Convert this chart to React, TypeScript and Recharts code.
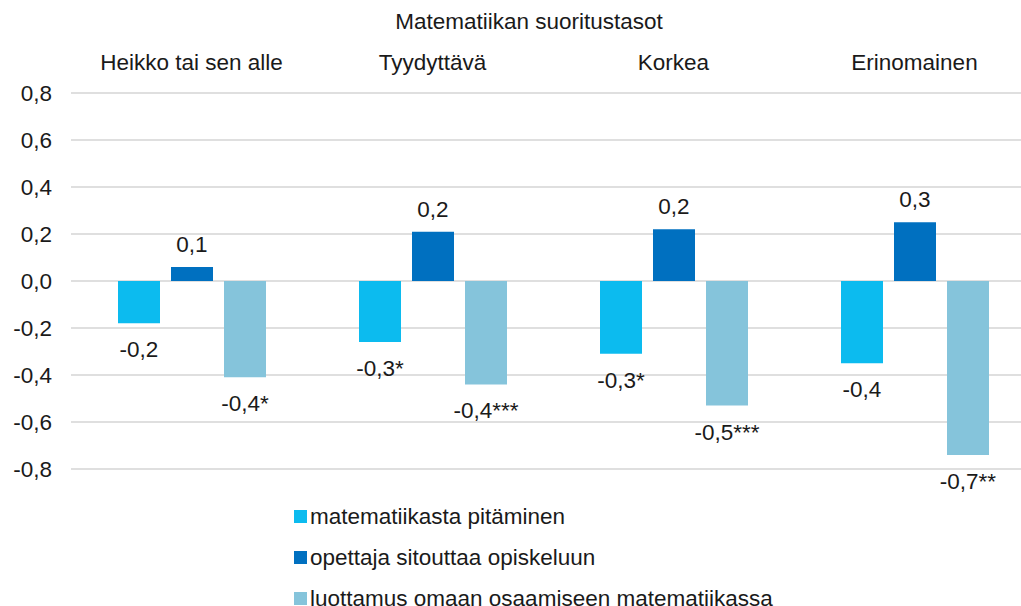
import React from 'react';
import { BarChart, Bar, XAxis, YAxis, CartesianGrid, Legend, LabelList } from 'recharts';

const categories = ['Heikko tai sen alle', 'Tyydyttävä', 'Korkea', 'Erinomainen'];
const pitaminen = [-0.18, -0.26, -0.31, -0.35];
const sitouttaa = [0.06, 0.21, 0.22, 0.25];
const luottamus = [-0.41, -0.44, -0.53, -0.74];
const pitaminenLabels = ['-0,2', '-0,3*', '-0,3*', '-0,4'];
const sitouttaaLabels = ['0,1', '0,2', '0,2', '0,3'];
const luottamusLabels = ['-0,4*', '-0,4***', '-0,5***', '-0,7**'];
const yTicks = [-0.8, -0.6, -0.4, -0.2, 0, 0.2, 0.4, 0.6, 0.8];

const seriesNames = ['matematiikasta pitäminen', 'opettaja sitouttaa opiskeluun', 'luottamus omaan osaamiseen matematiikassa'];
const colors = ['#0cbbef', '#0070c0', '#85c4db'];
const title = 'Matematiikan suoritustasot';

const data = categories.map((c, i) => ({
  name: c,
  p: pitaminen[i],
  s: sitouttaa[i],
  l: luottamus[i],
  pl: pitaminenLabels[i],
  sl: sitouttaaLabels[i],
  ll: luottamusLabels[i],
}));

const FONT = '"Liberation Sans", Arial, Helvetica, sans-serif';
const FS = 22.5;

const makeLabel = (values: number[]) => (props: any) => {
  const { x, y, width, height, value, index } = props;
  const top = Math.min(y, y + height);
  const bottom = Math.max(y, y + height);
  const cx = x + width / 2;
  const v = values[index];
  const ty = v >= 0 ? top - 15 : bottom + 34;
  return (
    <text x={cx} y={ty} textAnchor="middle" fontSize={FS} fill="#1a1a1a" fontFamily={FONT}>
      {value}
    </text>
  );
};

const LegendContent = () => (
  <div style={{ fontFamily: FONT, fontSize: FS, color: '#1a1a1a' }}>
    {seriesNames.map((n, i) => (
      <div key={n} style={{ display: 'flex', alignItems: 'center', height: 41, whiteSpace: 'nowrap' }}>
        <span style={{ display: 'inline-block', width: 13, height: 13, background: colors[i], marginRight: 3 }} />
        <span>{n}</span>
      </div>
    ))}
  </div>
);

export default function App() {
  return (
    <div style={{ position: 'fixed', left: 0, top: 0, width: 1021, height: 606, overflow: 'hidden', background: '#fff', fontFamily: FONT }}>
      <div style={{ position: 'absolute', top: 9, left: 529, transform: 'translateX(-50%)', fontSize: FS, color: '#1a1a1a', whiteSpace: 'nowrap' }}>
        {title}
      </div>
      <BarChart
        width={1040}
        height={606}
        data={data}
        margin={{ top: 43, right: 5, bottom: 137, left: 0 }}
        barSize={42}
        barGap={11}
      >
        <CartesianGrid vertical={false} stroke="#d5d5d5" strokeWidth={1.5} />
        <XAxis
          dataKey="name"
          orientation="top"
          height={50}
          axisLine={false}
          tickLine={false}
          tickSize={0}
          tickMargin={23}
          interval={0}
          tick={{ fontSize: FS, fill: '#1a1a1a', fontFamily: FONT }}
        />
        <YAxis
          width={71}
          domain={[-0.8, 0.8]}
          ticks={yTicks}
          axisLine={false}
          tickLine={false}
          tickSize={0}
          tickMargin={19}
          interval={0}
          tickFormatter={(v: number) => v.toFixed(1).replace('.', ',').replace('-0,0', '0,0')}
          tick={{ fontSize: FS, fill: '#1a1a1a', fontFamily: FONT }}
        />
        <Legend
          layout="vertical"
          align="center"
          verticalAlign="middle"
          content={<LegendContent />}
          wrapperStyle={{ top: 496, left: 294, width: 'auto', height: 'auto' }}
        />
        <Bar dataKey="p" name={seriesNames[0]} fill={colors[0]} isAnimationActive={false}>
          <LabelList dataKey="pl" content={makeLabel(pitaminen)} />
        </Bar>
        <Bar dataKey="s" name={seriesNames[1]} fill={colors[1]} isAnimationActive={false}>
          <LabelList dataKey="sl" content={makeLabel(sitouttaa)} />
        </Bar>
        <Bar dataKey="l" name={seriesNames[2]} fill={colors[2]} isAnimationActive={false}>
          <LabelList dataKey="ll" content={makeLabel(luottamus)} />
        </Bar>
      </BarChart>
    </div>
  );
}
